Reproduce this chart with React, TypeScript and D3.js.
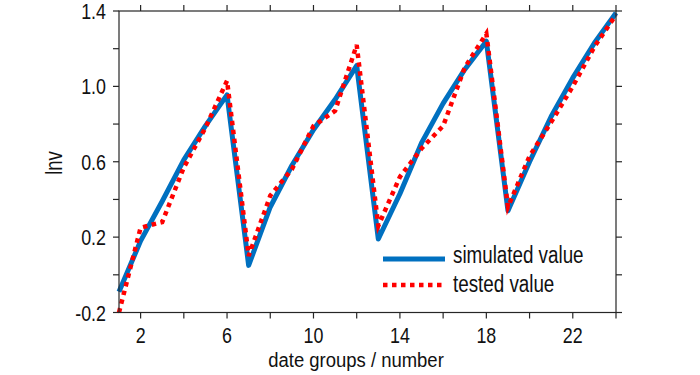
import React from "react";
import * as d3 from "d3";

const groups = [1, 2, 3, 4, 5, 6, 7, 8, 9, 10, 11, 12, 13, 14, 15, 16, 17, 18, 19, 20, 21, 22, 23, 24];
const simulated = [-0.09, 0.18, 0.39, 0.61, 0.79, 0.955, 0.05, 0.36, 0.58, 0.77, 0.93, 1.11, 0.19, 0.43, 0.7, 0.91, 1.09, 1.24, 0.34, 0.6, 0.84, 1.045, 1.23, 1.39];
const tested = [-0.2, 0.25, 0.28, 0.57, 0.78, 1.03, 0.1, 0.42, 0.56, 0.79, 0.87, 1.22, 0.26, 0.52, 0.67, 0.79, 1.1, 1.28, 0.36, 0.63, 0.81, 1.0, 1.21, 1.38];
const xTicks = [2, 4, 6, 8, 10, 12, 14, 16, 18, 20, 22, 24];
const xLabeled = [2, 6, 10, 14, 18, 22];
const yTicks = [-0.2, 0, 0.2, 0.4, 0.6, 0.8, 1.0, 1.2, 1.4];
const yLabeled = [-0.2, 0.2, 0.6, 1.0, 1.4];
const seriesNames = ["simulated value", "tested value"];
const xTitle = "date groups / number";
const yTitle = "lnv";

const W = 700, H = 375;
const L = 119, R = 616, T = 11, B = 312.5;
const FONT = "'Liberation Sans', Arial, sans-serif";
const AX = "#262626";
const TXT = "#111";

function Txt(props: { x: number; y: number; s: number; fs: number; anchor?: string; rot?: number; children: React.ReactNode }) {
  const { x, y, s, fs, anchor, rot, children } = props;
  const tr = `translate(${x},${y})${rot ? ` rotate(${rot})` : ""} scale(${s},1)`;
  return (
    <text transform={tr} textAnchor={anchor || "start"} fontFamily={FONT} fontSize={fs} fill={TXT}>
      {children}
    </text>
  );
}

export default function App() {
  React.useEffect(() => {
    document.body.style.margin = "0";
  }, []);
  const x = d3.scaleLinear().domain([1, 24]).range([L, R]);
  const y = d3.scaleLinear().domain([-0.2, 1.4]).range([B, T]);
  const line = d3.line<number>().x((_, i) => x(groups[i])).y((d) => y(d));
  const tl = 6;
  return (
    <svg width={W} height={H} style={{ display: "block", background: "#fff" }}>
      <path d={line(simulated) || ""} fill="none" stroke="#0070C0" strokeWidth={5} strokeLinejoin="round" />
      <path d={line(tested) || ""} fill="none" stroke="#FF0000" strokeWidth={4.5} strokeDasharray="4.5,4.5" />
      <rect x={L} y={T} width={R - L} height={B - T} fill="none" stroke={AX} strokeWidth={1.2} />
      {xTicks.map((t) => (
        <g key={"xt" + t}>
          <line x1={x(t)} x2={x(t)} y1={B} y2={B + tl} stroke={AX} strokeWidth={1.2} />
          <line x1={x(t)} x2={x(t)} y1={T} y2={T - tl} stroke={AX} strokeWidth={1.2} />
        </g>
      ))}
      {yTicks.map((t) => (
        <g key={"yt" + t}>
          <line x1={L} x2={L - tl} y1={y(t)} y2={y(t)} stroke={AX} strokeWidth={1.2} />
          <line x1={R} x2={R + tl} y1={y(t)} y2={y(t)} stroke={AX} strokeWidth={1.2} />
        </g>
      ))}
      {xLabeled.map((t) => (
        <Txt key={"xl" + t} x={x(t)} y={343} s={0.8} fs={22.3} anchor="middle">
          {t}
        </Txt>
      ))}
      {yLabeled.map((t) => (
        <Txt key={"yl" + t} x={106} y={y(t) + 8} s={0.8} fs={22.3} anchor="end">
          {t.toFixed(1)}
        </Txt>
      ))}
      <Txt x={356} y={367} s={0.88} fs={21} anchor="middle">
        {xTitle}
      </Txt>
      <Txt x={62} y={163} s={0.8} fs={23} anchor="middle" rot={-90}>
        {yTitle}
      </Txt>
      <line x1={383} x2={445} y1={259} y2={259} stroke="#0070C0" strokeWidth={5} />
      <line x1={383} x2={445} y1={285} y2={285} stroke="#FF0000" strokeWidth={4.5} strokeDasharray="4.5,4.5" />
      <Txt x={453} y={263} s={0.8} fs={23.5}>{seriesNames[0]}</Txt>
      <Txt x={453} y={292} s={0.8} fs={23.5}>{seriesNames[1]}</Txt>
    </svg>
  );
}
